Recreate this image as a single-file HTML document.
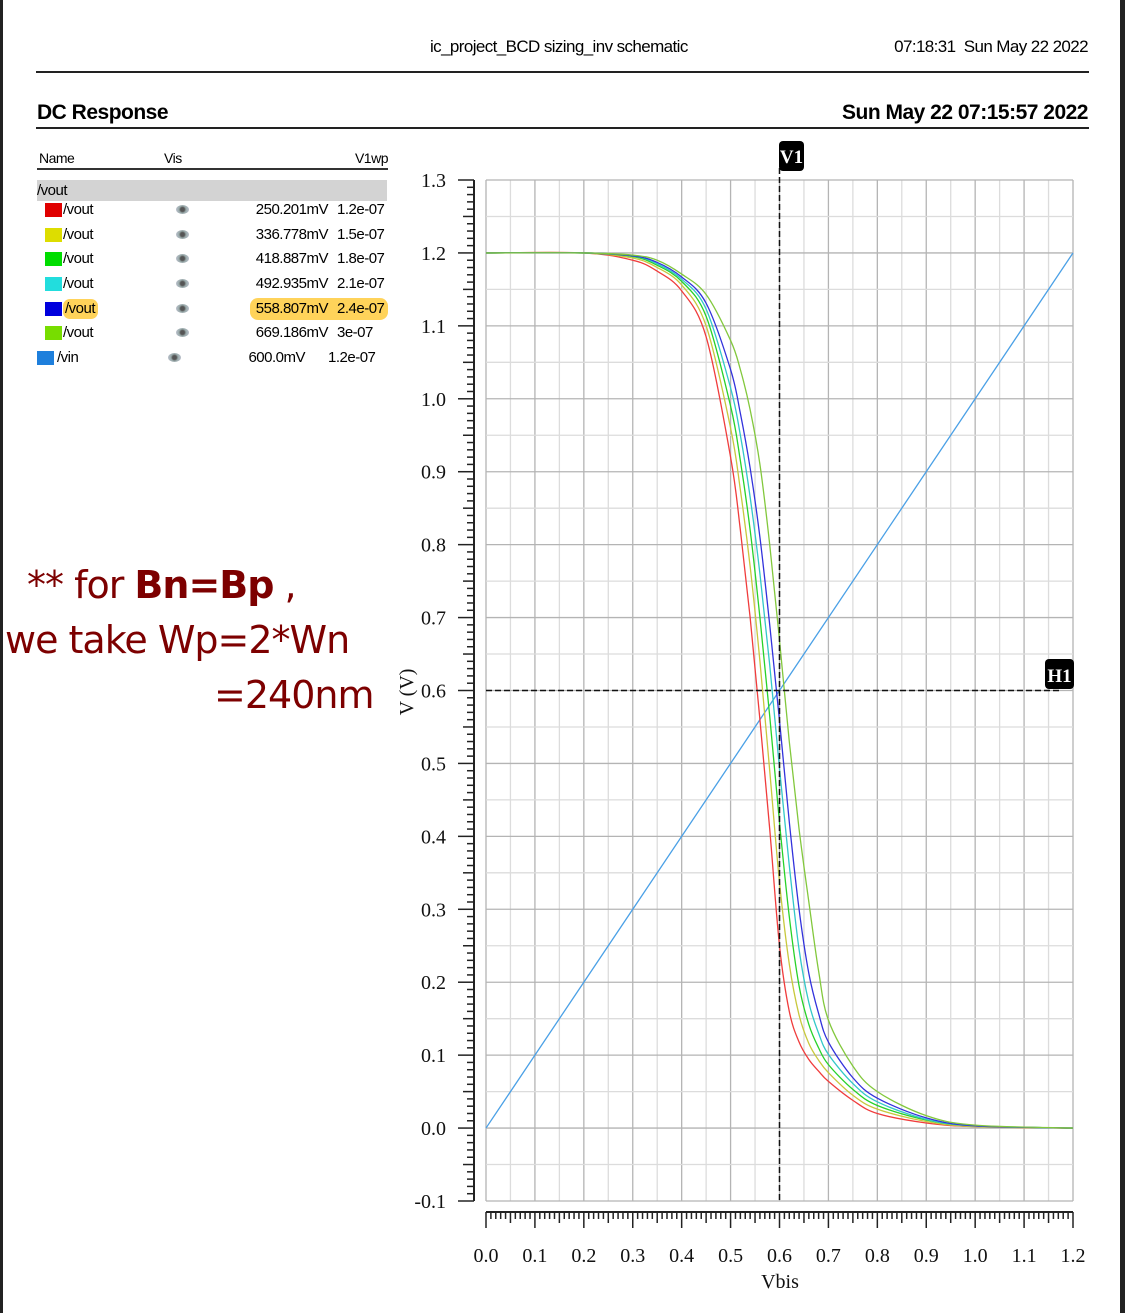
<!DOCTYPE html>
<html><head><meta charset="utf-8"><style>
body{margin:0;width:1125px;height:1313px;background:#fff;position:relative;overflow:hidden;font-family:"Liberation Sans",sans-serif}
.a{position:absolute;white-space:nowrap}
</style></head><body>
<div class="a" style="left:0;top:0;width:3px;height:1313px;background:#222"></div>
<div class="a" style="left:1120px;top:0;width:5px;height:1313px;background:#222"></div>
<div class="a" style="left:430px;top:37px;font-size:17px;letter-spacing:-0.6px">ic_project_BCD sizing_inv schematic</div>
<div class="a" style="right:37px;top:37px;font-size:17px;letter-spacing:-0.6px">07:18:31&nbsp; Sun May 22 2022</div>
<div class="a" style="left:36px;top:71px;width:1053px;height:2px;background:#222"></div>
<div class="a" style="left:37px;top:101px;font-size:21px;font-weight:bold;letter-spacing:-0.5px">DC Response</div>
<div class="a" style="right:37px;top:101px;font-size:21px;font-weight:bold;letter-spacing:-0.5px">Sun May 22 07:15:57 2022</div>
<div class="a" style="left:36px;top:127px;width:1053px;height:2px;background:#222"></div>

<div>
<div class="a" style="left:39px;top:150px;font-size:14px;letter-spacing:-0.5px">Name</div>
<div class="a" style="left:164px;top:150px;font-size:14px;letter-spacing:-0.5px">Vis</div>
<div class="a" style="right:737px;top:150px;font-size:14px;letter-spacing:-0.5px">V1wp</div>
<div class="a" style="left:37px;top:168px;width:351px;height:2px;background:#333"></div>
<div class="a" style="left:37px;top:180px;width:350px;height:21px;background:#d3d3d3;font-size:15px;line-height:21px;letter-spacing:-0.5px">/vout</div>
</div>
<div id="legrows"></div>

<div class="a" style="left:27px;top:563px;font-family:'DejaVu Sans',sans-serif;font-size:38px;color:#7d0000;letter-spacing:-1px">** for <b>Bn=Bp</b> ,</div>
<div class="a" style="left:5px;top:618px;font-family:'DejaVu Sans',sans-serif;font-size:38px;color:#7d0000;letter-spacing:-1px">we take Wp=2*Wn</div>
<div class="a" style="left:214px;top:673px;font-family:'DejaVu Sans',sans-serif;font-size:38px;color:#7d0000;letter-spacing:-1px">=240nm</div>

<svg id="chart" class="a" style="left:0;top:0" width="1125" height="1313"></svg>

<script>
const xs=[0,0.2,0.3,0.35,0.4,0.45,0.5,0.52,0.54,0.56,0.58,0.6,0.62,0.64,0.66,0.68,0.7,0.75,0.8,0.9,1.0,1.2];
const voutRed=[1.2,1.2,1.19,1.175,1.148,1.085,0.92,0.82,0.70,0.56,0.41,0.25,0.16,0.118,0.094,0.078,0.064,0.038,0.02,0.007,0.002,0];
const voutYellow=[1.2,1.2,1.193,1.18,1.156,1.10,0.96,0.875,0.77,0.64,0.49,0.337,0.225,0.155,0.116,0.093,0.076,0.045,0.026,0.009,0.002,0];
const voutGreen=[1.2,1.2,1.195,1.183,1.161,1.113,0.99,0.915,0.82,0.70,0.565,0.419,0.29,0.195,0.142,0.11,0.087,0.053,0.031,0.011,0.003,0];
const voutCyan=[1.2,1.2,1.196,1.185,1.164,1.123,1.015,0.95,0.865,0.76,0.635,0.493,0.36,0.245,0.172,0.13,0.101,0.061,0.036,0.012,0.003,0];
const voutBlue=[1.2,1.2,1.196,1.187,1.167,1.131,1.04,0.98,0.905,0.81,0.69,0.559,0.42,0.30,0.212,0.157,0.118,0.069,0.041,0.014,0.003,0];
const voutLime=[1.2,1.2,1.197,1.19,1.171,1.143,1.08,1.04,0.985,0.91,0.80,0.669,0.53,0.41,0.31,0.215,0.148,0.085,0.05,0.017,0.004,0];
const vinX=[0,1.2];
const vinY=[0,1.2];
const xTicks=["0.0","0.1","0.2","0.3","0.4","0.5","0.6","0.7","0.8","0.9","1.0","1.1","1.2"];
const yTicks=["-0.1","0.0","0.1","0.2","0.3","0.4","0.5","0.6","0.7","0.8","0.9","1.0","1.1","1.2","1.3"];
const legendValues=["250.201mV","336.778mV","418.887mV","492.935mV","558.807mV","669.186mV","600.0mV"];
const legendWp=["1.2e-07","1.5e-07","1.8e-07","2.1e-07","2.4e-07","3e-07","1.2e-07"];
const cursorX=0.6, cursorY=0.6;

const colors=["#f03c3c","#c8c83c","#28d228","#32c8c8","#3232dc","#82c83c","#4aa0e6"];
const swatch=["#e00000","#dddd00","#00dd00","#22dddd","#0000dd","#77dd00","#1e7fdc"];
const series=[voutRed,voutYellow,voutGreen,voutCyan,voutBlue,voutLime];

const L=486,R=1073,T=180,B=1201;
const X=v=>L+(v-0)/1.2*(R-L);
const Y=v=>B-(v+0.1)/1.4*(B-T);
const svg=document.getElementById('chart');
const NS="http://www.w3.org/2000/svg";
function mk(tag,at,parent){const e=document.createElementNS(NS,tag);for(const k in at)e.setAttribute(k,at[k]);(parent||svg).appendChild(e);return e;}

for(let i=0;i<=24;i++){const v=i*0.05;const x=X(v);
 const e=mk('line',{x1:x,x2:x,y1:T,y2:B,stroke:i%2?'#dcdcdc':'#b4b4b4','stroke-width':1.3});
 }
for(let i=0;i<=28;i++){const v=-0.1+i*0.05;const y=Y(v);
 const e=mk('line',{x1:L,x2:R,y1:y,y2:y,stroke:i%2?'#dcdcdc':'#b4b4b4','stroke-width':1.3});
 }

const yr=mk('line',{x1:474,x2:474,y1:T,y2:B,stroke:'#222','stroke-width':2});

for(let i=0;i<=140;i++){const y=Y(-0.1+i*0.01);const len=i%10==0?16:(i%5==0?11:7);
 const t=mk('line',{x1:474-len,x2:474,y1:y,y2:y,stroke:'#222','stroke-width':1.5});
 }
yTicks.forEach((s,i)=>{const t=mk('text',{x:446,y:Y(parseFloat(s))+7,'text-anchor':'end','font-family':'Liberation Serif,serif','font-size':20,fill:'#111'});t.textContent=s;
 });
const yt=mk('text',{x:0,y:0,transform:'translate(413,692) rotate(-90)','text-anchor':'middle','font-family':'Liberation Serif,serif','font-size':20,fill:'#111'});yt.textContent='V (V)';


const xr=mk('line',{x1:L,x2:R,y1:1212,y2:1212,stroke:'#222','stroke-width':2});

for(let i=0;i<=120;i++){const x=X(i*0.01);const len=i%10==0?16:(i%5==0?11:7);
 const t=mk('line',{x1:x,x2:x,y1:1212,y2:1212+len,stroke:'#222','stroke-width':1.5});
 }
xTicks.forEach(s=>{const t=mk('text',{x:X(parseFloat(s)),y:1262,'text-anchor':'middle','font-family':'Liberation Serif,serif','font-size':20,fill:'#111'});t.textContent=s;
 });
const xt=mk('text',{x:780,y:1288,'text-anchor':'middle','font-family':'Liberation Serif,serif','font-size':20,fill:'#111'});xt.textContent='Vbis';


function pathFor(xv,yv){const p=xv.map((v,i)=>[X(v),Y(yv[i])]);let d='M'+p[0][0]+','+p[0][1];
 for(let i=0;i<p.length-1;i++){const p0=p[i-1]||p[i],p1=p[i],p2=p[i+1],p3=p[i+2]||p2;
  const c1=[p1[0]+(p2[0]-p0[0])/6,p1[1]+(p2[1]-p0[1])/6],c2=[p2[0]-(p3[0]-p1[0])/6,p2[1]-(p3[1]-p1[1])/6];
  d+=`C${c1[0]},${c1[1]} ${c2[0]},${c2[1]} ${p2[0]},${p2[1]}`;}return d;}
const vin=mk('line',{x1:X(vinX[0]),y1:Y(vinY[0]),x2:X(vinX[1]),y2:Y(vinY[1]),stroke:colors[6],'stroke-width':1.3});

series.forEach((s,i)=>{const e=mk('path',{d:pathFor(xs,s),fill:'none',stroke:colors[i],'stroke-width':1.3});
 });

const vc=mk('line',{x1:X(cursorX),x2:X(cursorX),y1:168,y2:B,stroke:'#111','stroke-width':1.5,'stroke-dasharray':'6,3'});

const hc=mk('line',{x1:L,x2:1060,y1:Y(cursorY),y2:Y(cursorY),stroke:'#111','stroke-width':1.5,'stroke-dasharray':'6,3'});

const vb=mk('rect',{x:779,y:141,width:25,height:30,rx:4,fill:'#000'});

const vtx=mk('text',{x:791.5,y:163,'text-anchor':'middle','font-family':'Liberation Serif,serif','font-weight':'bold','font-size':19,fill:'#fff'});vtx.textContent='V1';

const hb=mk('rect',{x:1045,y:659,width:29,height:30,rx:4,fill:'#000'});

const htx=mk('text',{x:1059.5,y:682,'text-anchor':'middle','font-family':'Liberation Serif,serif','font-weight':'bold','font-size':19,fill:'#fff'});htx.textContent='H1';


const lr=document.getElementById('legrows');
const rowY=[200,225,249,274,299,323,348];
rowY.forEach((y,i)=>{
 const isVin=i==6;
 const row=document.createElement('div');row.className='a';row.style.cssText=`left:0;top:${y}px;width:400px;height:20px;font-size:15px;letter-spacing:-0.5px;line-height:20px`;
 
 
 const hl=i==4;
 row.innerHTML=`<div class="a" style="left:${isVin?37:45}px;top:3px;width:17px;height:14px;background:${swatch[i]}"></div>`+
 `<div class="a" style="left:${isVin?57:63}px;top:0;${hl?'background:#ffd35a;border-radius:7px;padding:0 3px 0 2px;':''}">${isVin?'/vin':'/vout'}</div>`+
 `<div class="a" style="left:${isVin?168:176}px;top:5px;width:13px;height:9px;border-radius:50%;background:radial-gradient(circle,#555 25%,#9aa 45%,#ccd 100%)"></div>`+
 (hl?`<div class="a" style="left:250px;top:-1px;width:138px;height:22px;background:#ffd35a;border-radius:8px"></div>`:'')+
 `<div class="a" style="right:${isVin?95:72}px;top:0">${legendValues[i]}</div>`+
 `<div class="a" style="left:${isVin?328:337}px;top:0">${legendWp[i]}</div>`;
 lr.appendChild(row);
});
</script>
</body></html>
